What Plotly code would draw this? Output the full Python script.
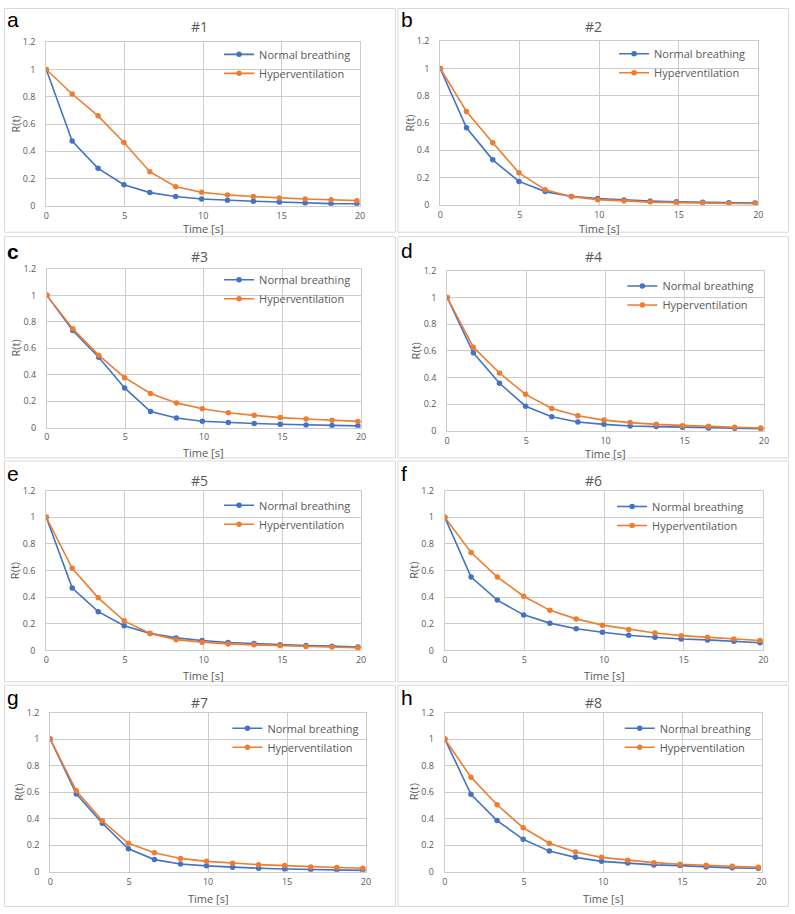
import plotly.graph_objects as go

W, H = 795, 914

time_s = [0, 1.65, 3.3, 4.95, 6.6, 8.25, 9.9, 11.55, 13.2, 14.85, 16.5, 18.15, 19.8]

panel_titles = ["#1", "#2", "#3", "#4", "#5", "#6", "#7", "#8"]
panel_letters = ["a", "b", "c", "d", "e", "f", "g", "h"]
series_names = ["Normal breathing", "Hyperventilation"]
x_title = "Time [s]"
y_title = "R(t)"

normal_1 = [1, 0.475, 0.275, 0.155, 0.097, 0.068, 0.05, 0.04, 0.034, 0.028, 0.02, 0.016, 0.015]
hyper_1 = [1, 0.82, 0.66, 0.465, 0.25, 0.14, 0.1, 0.08, 0.068, 0.058, 0.05, 0.045, 0.038]
normal_2 = [1, 0.565, 0.33, 0.172, 0.097, 0.062, 0.047, 0.036, 0.028, 0.022, 0.019, 0.016, 0.014]
hyper_2 = [1, 0.685, 0.455, 0.235, 0.11, 0.06, 0.038, 0.028, 0.02, 0.016, 0.013, 0.01, 0.008]
normal_3 = [1, 0.735, 0.532, 0.30, 0.122, 0.073, 0.048, 0.038, 0.031, 0.025, 0.02, 0.016, 0.013]
hyper_3 = [1, 0.748, 0.548, 0.378, 0.258, 0.187, 0.143, 0.113, 0.093, 0.076, 0.065, 0.055, 0.047]
normal_4 = [1, 0.586, 0.357, 0.185, 0.106, 0.067, 0.049, 0.037, 0.032, 0.027, 0.022, 0.02, 0.017]
hyper_4 = [1, 0.628, 0.434, 0.274, 0.168, 0.113, 0.081, 0.062, 0.049, 0.039, 0.034, 0.027, 0.022]
normal_5 = [1, 0.469, 0.291, 0.185, 0.128, 0.094, 0.074, 0.059, 0.052, 0.042, 0.037, 0.032, 0.025]
hyper_5 = [1, 0.617, 0.395, 0.222, 0.128, 0.081, 0.062, 0.049, 0.042, 0.037, 0.03, 0.025, 0.02]
normal_6 = [1, 0.551, 0.378, 0.267, 0.205, 0.163, 0.136, 0.114, 0.099, 0.086, 0.079, 0.069, 0.058]
hyper_6 = [1, 0.736, 0.551, 0.407, 0.301, 0.237, 0.19, 0.158, 0.131, 0.111, 0.099, 0.086, 0.074]
normal_7 = [1, 0.587, 0.366, 0.173, 0.092, 0.059, 0.045, 0.034, 0.027, 0.021, 0.017, 0.014, 0.011]
hyper_7 = [1, 0.611, 0.384, 0.215, 0.144, 0.101, 0.079, 0.064, 0.054, 0.047, 0.037, 0.032, 0.027]
normal_8 = [1, 0.584, 0.386, 0.245, 0.156, 0.109, 0.079, 0.067, 0.052, 0.047, 0.037, 0.03, 0.027]
hyper_8 = [1, 0.713, 0.505, 0.332, 0.215, 0.149, 0.109, 0.087, 0.069, 0.057, 0.05, 0.042, 0.035]

normal_all = [normal_1, normal_2, normal_3, normal_4, normal_5, normal_6, normal_7, normal_8]
hyper_all = [hyper_1, hyper_2, hyper_3, hyper_4, hyper_5, hyper_6, hyper_7, hyper_8]

BLUE = "#4472C4"
ORANGE = "#ED7D31"
GRID = "#cccccc"
TXT = "#595959"
FONT = "Open Sans"

# pixel layout: (left, right, top, bottom) of each plot area
plot_px = [
    (43.7, 360.7, 35.7, 201.7),
    (441.7, 763.0, 34.7, 200.7),
    (44.3, 361.7, 265.7, 426.7),
    (448.7, 768.7, 267.7, 430.0),
    (43.7, 361.7, 490.7, 652.7),
    (446.3, 768.0, 490.7, 652.7),
    (47.7, 366.7, 715.7, 877.3),
    (446.3, 766.3, 715.7, 877.3),
]
col_px = [(1.5, 396.5), (399.0, 793.5)]
row_px = [(1.5, 228.5), (233.0, 457.5), (460.5, 684.5), (688.0, 912.5)]
legend_px = [
    (258.3, 52.3), (657.3, 51.7), (258.3, 281.0), (665.7, 287.3),
    (258.3, 509.7), (655.3, 511.0), (266.7, 736.0), (663.0, 736.0),
]
title_y_px = [20, 20, 252.7, 253, 480, 480, 705.7, 705.7]
letter_y_px = [13, 13, 248, 247, 473, 473, 700, 700]
xtitle_y_px = [225.0, 225.0, 452.0, 453.0, 678.0, 678.0, 904.0, 904.0]


def px_x(v):
    return v / W


def px_y(v):
    return 1 - v / H


fig = go.Figure()
layout = dict(
    width=W, height=H,
    margin=dict(l=0, r=0, t=0, b=0),
    paper_bgcolor="white", plot_bgcolor="white",
    font=dict(family=FONT, color=TXT),
    annotations=[], shapes=[],
)

for i in range(8):
    n = i + 1
    sfx = "" if n == 1 else str(n)
    leg = "legend" if n == 1 else f"legend{n}"
    for name, vals, col in [(series_names[0], normal_all[i], BLUE),
                            (series_names[1], hyper_all[i], ORANGE)]:
        fig.add_trace(go.Scatter(
            x=time_s, y=vals, name=name, mode="lines+markers",
            line=dict(color=col, width=1.6),
            marker=dict(color=col, size=5.5, symbol="circle"),
            xaxis=f"x{sfx}", yaxis=f"y{sfx}", legend=leg, showlegend=True,
        ))
    l, r, t, b = plot_px[i]
    layout[f"xaxis{sfx}"] = dict(
        domain=[px_x(l), px_x(r)], anchor=f"y{sfx}", range=[0, 20],
        tickmode="array", tickvals=[0, 5, 10, 15, 20],
        showgrid=True, gridcolor=GRID, gridwidth=1,
        zeroline=False, showline=True, mirror=True, linecolor=GRID, linewidth=1,
        ticks="", tickfont=dict(size=9, color=TXT, family=FONT),
        ticklabelstandoff=1,
    )
    layout[f"yaxis{sfx}"] = dict(
        domain=[px_y(b), px_y(t)], anchor=f"x{sfx}", range=[0, 1.2],
        tickmode="array", tickvals=[0, 0.2, 0.4, 0.6, 0.8, 1, 1.2],
        ticktext=["0", "0.2", "0.4", "0.6", "0.8", "1", "1.2"],
        showgrid=True, gridcolor=GRID, gridwidth=1,
        zeroline=False, showline=True, mirror=True, linecolor=GRID, linewidth=1,
        ticks="", tickfont=dict(size=9, color=TXT, family=FONT),
        ticklabelstandoff=8,
    )
    lx, ly = legend_px[i]
    layout[leg] = dict(
        x=px_x(lx - 40), y=px_y(ly - 19), xanchor="left", yanchor="top",
        bgcolor="rgba(0,0,0,0)", borderwidth=0,
        font=dict(size=11, color=TXT, family=FONT),
        tracegroupgap=0, itemwidth=30,
    )
    cl, cr = col_px[i % 2]
    rt, rb = row_px[i // 2]
    layout["shapes"].append(dict(
        type="rect", xref="paper", yref="paper",
        x0=px_x(cl), x1=px_x(cr), y0=px_y(rb), y1=px_y(rt),
        line=dict(color="#d9d9d9", width=1), fillcolor="rgba(0,0,0,0)", layer="below",
    ))
    layout["annotations"].append(dict(
        text=panel_titles[i], xref="paper", yref="paper",
        x=px_x((cl + cr) / 2), y=px_y(title_y_px[i]),
        xanchor="center", yanchor="middle", showarrow=False,
        font=dict(size=14, color=TXT, family=FONT),
    ))
    layout["annotations"].append(dict(
        text=(f"<b>{panel_letters[i]}</b>" if panel_letters[i] == "c" else panel_letters[i]),
        xref="paper", yref="paper",
        x=px_x(cl + 1), y=px_y(letter_y_px[i]),
        xanchor="left", yanchor="middle", showarrow=False,
        font=dict(size=21, color="black", family="Liberation Sans"),
    ))
    layout["annotations"].append(dict(
        text=x_title, xref="paper", yref="paper",
        x=px_x((l + r) / 2), y=px_y(xtitle_y_px[i]),
        xanchor="center", yanchor="middle", showarrow=False,
        font=dict(size=11, color=TXT, family=FONT),
    ))
    layout["annotations"].append(dict(
        text=y_title, xref="paper", yref="paper", textangle=-90,
        x=px_x(l - 32), y=px_y((t + b) / 2),
        xanchor="center", yanchor="middle", showarrow=False,
        font=dict(size=11, color=TXT, family=FONT),
    ))

fig.update_layout(**layout)
fig.write_html("out.html")
